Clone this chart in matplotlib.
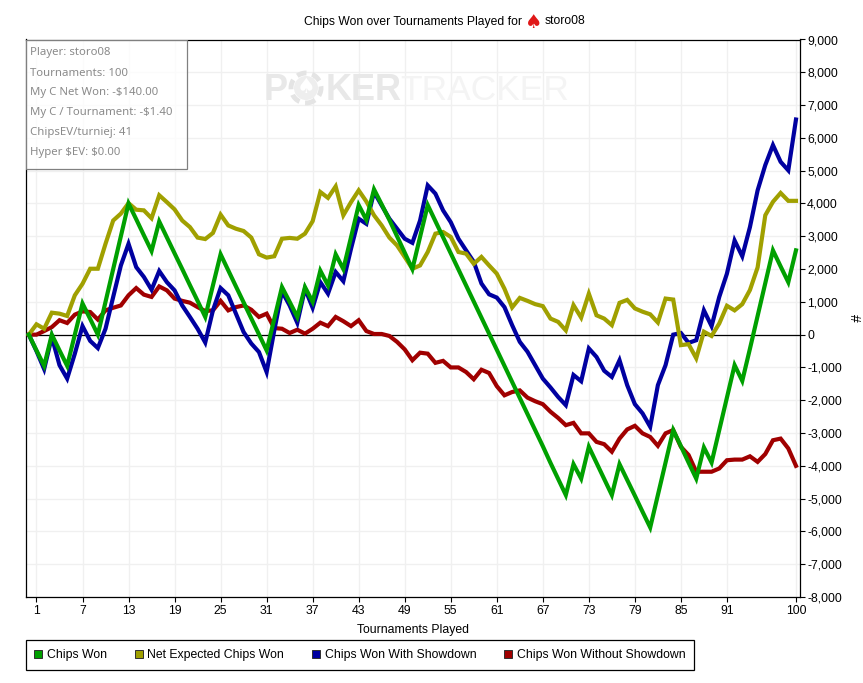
import matplotlib
matplotlib.use('Agg')
import matplotlib.pyplot as plt
import numpy as np
from matplotlib.patches import Patch, Rectangle, Circle
from matplotlib.ticker import FuncFormatter

plt.rcParams['font.family'] = ['Liberation Sans', 'DejaVu Sans']

chips_won = [0, -480, -950, 0, -480, -950, 0, 950, 480, 0, 1000, 2000, 3000, 4000, 3520, 3030, 2550, 3450,
             2965, 2480, 2000, 1510, 1030, 540, 1500, 2450, 1960, 1470, 985, 495, 10, -480, 480, 1450, 1000,
             540, 1450, 1000, 1950, 1500, 2450, 2000, 2970, 3950, 3500, 4430, 3970, 3500, 3000, 2500, 2000,
             2980, 3950, 3460, 2970, 2480, 1990, 1500, 1010, 520, 30, -460, -950, -1440, -1930, -2420, -2910,
             -3400, -3910, -4400, -4890, -3950, -4390, -3420, -3910, -4400, -4890, -3950, -4430, -4910, -5400,
             -5880, -4890, -3900, -2910, -3400, -3900, -4390, -3440, -3900, -2910, -1920, -930, -1410, -430,
             570, 1570, 2570, 2080, 1600, 2570]
net_expected = [0, 315, 180, 670, 640, 570, 1200, 1550, 2010, 2010, 2770, 3480, 3690, 4010, 3810, 3790, 3550,
                4250, 4040, 3820, 3480, 3280, 2960, 2915, 3100, 3660, 3330, 3230, 3160, 2960, 2450, 2350, 2390,
                2925, 2950, 2925, 3080, 3460, 4350, 4170, 4520, 3640, 4040, 4400, 4060, 3640, 3330, 2960, 2720,
                2370, 2010, 2110, 2520, 3080, 3130, 2980, 2520, 2470, 2160, 2370, 2110, 1860, 1400, 830, 1120,
                1030, 930, 870, 490, 390, 130, 900, 520, 1250, 590, 490, 290, 970, 1060, 800, 700, 620, 370,
                1100, 1070, -320, -290, -720, 90, -40, 340, 880, 740, 930, 1360, 2050, 3640, 4050, 4320, 4080,
                4080]
with_showdown = [0, -500, -1050, -70, -930, -1340, -580, 260, -190, -410, 180, 1150, 2110, 2770, 2060, 1760,
                 1370, 1940, 1600, 1350, 890, 540, 180, -240, 740, 1420, 1200, 640, 80, -270, -530, -1140, 130,
                 1320, 890, 360, 1400, 820, 1600, 1250, 1910, 1630, 2620, 3535, 3380, 4350, 3940, 3535, 3230,
                 2925, 2800, 3480, 4550, 4300, 3790, 3430, 2925, 2570, 2220, 1560, 1230, 1130, 840, 290, -220,
                 -520, -930, -1340, -1610, -1900, -2150, -1230, -1420, -420, -680, -1100, -1290, -780, -1540,
                 -2120, -2400, -2810, -1540, -930, 0, 50, -250, -170, 740, 260, 1150, 1860, 2870, 2390, 3280,
                 4400, 5170, 5780, 5270, 5010, 6560]
without_showdown = [0, 0, 110, 230, 440, 355, 610, 710, 690, 460, 740, 820, 890, 1200, 1420, 1220, 1150, 1470,
                    1350, 1100, 1030, 975, 840, 720, 740, 1030, 740, 840, 890, 760, 540, 640, 200, 180, 50, 150,
                    30, 180, 365, 260, 540, 410, 260, 440, 110, 20, 20, -40, -220, -450, -780, -550, -580, -860,
                    -800, -1000, -1000, -1140, -1360, -1070, -1170, -1570, -1850, -1750, -1700, -1920, -2030,
                    -2120, -2350, -2540, -2760, -2690, -3010, -3010, -3270, -3340, -3570, -3170, -2890, -2780,
                    -3010, -3120, -3390, -3010, -2910, -3420, -3670, -4180, -4180, -4180, -4080, -3830, -3810,
                    -3810, -3710, -3880, -3640, -3220, -3170, -3470, -4000]

x_ticks = [1, 7, 13, 19, 25, 31, 37, 43, 49, 55, 61, 67, 73, 79, 85, 91, 100]
y_ticks = list(range(-8000, 9001, 1000))
info_lines = ['Player: storo08', 'Tournaments: 100', 'My C Net Won: -$140.00',
              'My C / Tournament: -$1.40', 'ChipsEV/turniej: 41', 'Hyper $EV: $0.00']

GREEN = '#00a000'
OLIVE = '#a0a000'
BLUE = '#0000a0'
RED = '#a00000'

W, H = 863, 683


def fx(px):
    return px / W


def fy(py):
    return 1 - py / H


fig = plt.figure(figsize=(W / 100, H / 100), dpi=100)
ax = fig.add_axes([fx(25.5), fy(597), fx(799.5) - fx(25.5), fy(39.5) - fy(597)])

rounds = np.arange(len(chips_won))
ax.plot(rounds, without_showdown, color=RED, lw=3, solid_joinstyle='miter', zorder=3)
ax.plot(rounds, with_showdown, color=BLUE, lw=3, solid_joinstyle='miter', zorder=4)
ax.plot(rounds, net_expected, color=OLIVE, lw=3, solid_joinstyle='miter', zorder=5)
ax.plot(rounds, chips_won, color=GREEN, lw=3, solid_joinstyle='miter', zorder=6)
ax.axhline(0, color='black', lw=0.9, zorder=2.5)

ax.set_xlim(-0.43, 100.46)
ax.set_ylim(-8000, 9000)
ax.set_xticks(x_ticks)
ax.set_yticks(y_ticks)
ax.yaxis.tick_right()
ax.yaxis.set_label_position('right')
ax.yaxis.set_major_formatter(FuncFormatter(lambda v, pos: f'{v:,.0f}'))
ax.tick_params(axis='both', labelsize=8.8, length=3.5, width=0.8, pad=2)
ax.grid(True, color='#f0f0f0', lw=1)
ax.set_axisbelow(True)
for spine in ax.spines.values():
    spine.set_linewidth(0.9)

ax.set_xlabel('Tournaments Played', fontsize=8.8, labelpad=5)
fig.text(fx(854), fy(318), '#', fontsize=10, rotation=270, ha='center', va='center')

# title, the spade is a separate text so it can be red
fig.text(fx(304), fy(21.5), 'Chips Won over Tournaments Played for', fontsize=8.74, ha='left', va='center')
fig.text(fx(534), fy(22), '\u2660', fontsize=14, color='#e01818', ha='center', va='center',
         family=['DejaVu Sans'])
fig.text(fx(545), fy(21.5), 'storo08', fontsize=8.74, ha='left', va='center')

# watermark
wm = dict(fontsize=26, fontweight='bold', ha='left', va='center', zorder=1)
fig.text(fx(264), fy(90), 'P', color='#e8e8e8', **wm)
fig.add_artist(Circle((fx(306) * W * 1.0, H - 88), 15, transform=None, facecolor='none', edgecolor='#e4e4e4',
                      lw=3.5, linestyle=(0, (2, 1.2)), zorder=1))
fig.add_artist(Circle((306, H - 88), 12, transform=None, facecolor='#eeeeee', edgecolor='none', zorder=1))
fig.text(fx(306), fy(87), '\u2660', color='white', fontsize=15, ha='center', va='center', zorder=1.1,
         family=['DejaVu Sans'])
fig.text(fx(326), fy(90), 'KER', color='#e8e8e8', **wm)
fig.text(fx(400), fy(90), 'TRACKER', color='#f4f4f4', fontsize=25.5, ha='left', va='center', zorder=1)

# stats box in the corner
ax.add_patch(Rectangle((fx(25.5), fy(169)), fx(187) - fx(25.5), fy(40) - fy(169), transform=fig.transFigure,
                       facecolor='white', alpha=0.75, edgecolor='none', zorder=7))
ax.add_patch(Rectangle((fx(25.5), fy(169)), fx(187) - fx(25.5), fy(40) - fy(169), transform=fig.transFigure,
                       facecolor='none', edgecolor='#808080', lw=0.9, zorder=8))
for i, line in enumerate(info_lines):
    fig.text(fx(30), fy(53 + 20 * i), line, fontsize=8.2, color='#8a8a8a', ha='left', va='center', zorder=9,
             family=['Noto Sans'], parse_math=False)

handles = [Patch(facecolor=GREEN, edgecolor='#303030', lw=0.7, label='Chips Won'),
           Patch(facecolor=OLIVE, edgecolor='#303030', lw=0.7, label='Net Expected Chips Won'),
           Patch(facecolor=BLUE, edgecolor='#303030', lw=0.7, label='Chips Won With Showdown'),
           Patch(facecolor=RED, edgecolor='#303030', lw=0.7, label='Chips Won Without Showdown')]
fig.legend(handles=handles, ncols=4, loc='lower left', bbox_to_anchor=(fx(25.5), fy(670)), borderaxespad=0,
           fontsize=8.8, frameon=True, fancybox=False, framealpha=1, edgecolor='black',
           handlelength=0.65, handleheight=0.7, handletextpad=0.4, columnspacing=2.25,
           borderpad=0.72).get_frame().set_linewidth(0.9)

fig.savefig('out.png', dpi=100)
